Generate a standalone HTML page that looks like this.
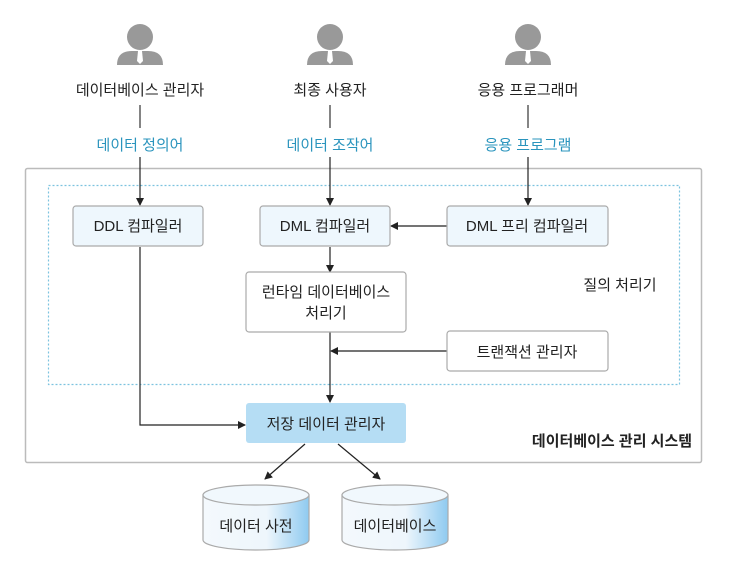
<!DOCTYPE html>
<html><head><meta charset="utf-8"><style>
body{margin:0;background:#fff;}
svg{display:block;font-family:"Liberation Sans","Noto Sans CJK KR",sans-serif;}
</style></head><body>
<svg width="742" height="568" viewBox="0 0 742 568" xmlns="http://www.w3.org/2000/svg">
<defs>
<marker id="a" markerWidth="8" markerHeight="8" refX="7" refY="4" orient="auto" markerUnits="userSpaceOnUse"><path d="M0,0 L8,4 L0,8 z" fill="#222"/></marker>
<linearGradient id="cyl" x1="0" x2="1"><stop offset="0" stop-color="#f4f9fd"/><stop offset="0.6" stop-color="#eef6fc"/><stop offset="1" stop-color="#8fcaf0"/></linearGradient>
<g id="person"><circle cx="0" cy="-28" r="13" fill="#999"/><path d="M-23,0 Q-23,-14 -8,-14 L8,-14 Q23,-14 23,0 Z" fill="#999"/><path d="M-2,-14 L2,-14 L3,-4 L0,-1 L-3,-4 Z" fill="#fff"/></g>
</defs>
<!-- outer box -->
<rect x="25.5" y="168.5" width="676" height="294" fill="none" stroke="#bbb" stroke-width="1.5" rx="2"/>
<rect x="48.5" y="185.5" width="631" height="199" fill="none" stroke="#7cc3df" stroke-width="1.2" stroke-dasharray="2,2"/>
<!-- people -->
<use href="#person" x="140" y="65"/>
<use href="#person" x="330" y="65"/>
<use href="#person" x="528" y="65"/>
<g font-size="15" fill="#222" text-anchor="middle">
<text x="140" y="95">데이터베이스 관리자</text>
<text x="330" y="95">최종 사용자</text>
<text x="528" y="95">응용 프로그래머</text>
</g>
<g stroke="#333" stroke-width="1.2">
<line x1="140" y1="105" x2="140" y2="128"/><line x1="330" y1="105" x2="330" y2="128"/><line x1="528" y1="105" x2="528" y2="128"/>
</g>
<g font-size="15" fill="#2a94bd" text-anchor="middle">
<text x="140" y="150">데이터 정의어</text>
<text x="330" y="150">데이터 조작어</text>
<text x="528" y="150">응용 프로그램</text>
</g>
<g stroke="#222" stroke-width="1.2" fill="none" marker-end="url(#a)">
<line x1="140" y1="157" x2="140" y2="205"/>
<line x1="330" y1="157" x2="330" y2="205"/>
<line x1="528" y1="157" x2="528" y2="205"/>
<line x1="447" y1="226" x2="391" y2="226"/>
<line x1="330" y1="247" x2="330" y2="272"/>
<line x1="447" y1="351" x2="331" y2="351"/>
<line x1="330" y1="332" x2="330" y2="402"/>
<polyline points="140,247 140,425 245,425"/>
<line x1="305" y1="444" x2="265" y2="479"/>
<line x1="338" y1="444" x2="380" y2="479"/>
</g>
<!-- boxes -->
<g stroke="#aaa" stroke-width="1.2">
<rect x="73" y="206" width="130" height="40" rx="3" fill="#eef7fd"/>
<rect x="260" y="206" width="130" height="40" rx="3" fill="#eef7fd"/>
<rect x="447" y="206" width="161" height="40" rx="3" fill="#eef7fd"/>
<rect x="246" y="272" width="160" height="60" rx="3" fill="#fff"/>
<rect x="447" y="331" width="161" height="40" rx="3" fill="#fff"/>
</g>
<rect x="246" y="403" width="160" height="40" rx="3" fill="#b5ddf4"/>
<g font-size="15" fill="#222" text-anchor="middle">
<text x="138" y="231">DDL 컴파일러</text>
<text x="325" y="231">DML 컴파일러</text>
<text x="527" y="231">DML 프리 컴파일러</text>
<text x="326" y="297">런타임 데이터베이스</text>
<text x="326" y="318">처리기</text>
<text x="527" y="357">트랜잭션 관리자</text>
<text x="326" y="429">저장 데이터 관리자</text>
<text x="620" y="290">질의 처리기</text>
<text x="612" y="446" font-weight="bold">데이터베이스 관리 시스템</text>
</g>
<!-- cylinders -->
<g stroke="#aaa" stroke-width="1.2">
<path d="M203,495 L203,540 A53,10 0 0 0 309,540 L309,495 Z" fill="url(#cyl)"/>
<ellipse cx="256" cy="495" rx="53" ry="10" fill="#f1f8fd"/>
<path d="M342,495 L342,540 A53,10 0 0 0 448,540 L448,495 Z" fill="url(#cyl)"/>
<ellipse cx="395" cy="495" rx="53" ry="10" fill="#f1f8fd"/>
</g>
<g font-size="15" fill="#222" text-anchor="middle">
<text x="256" y="531">데이터 사전</text>
<text x="395" y="531">데이터베이스</text>
</g>
</svg>
</body></html>
